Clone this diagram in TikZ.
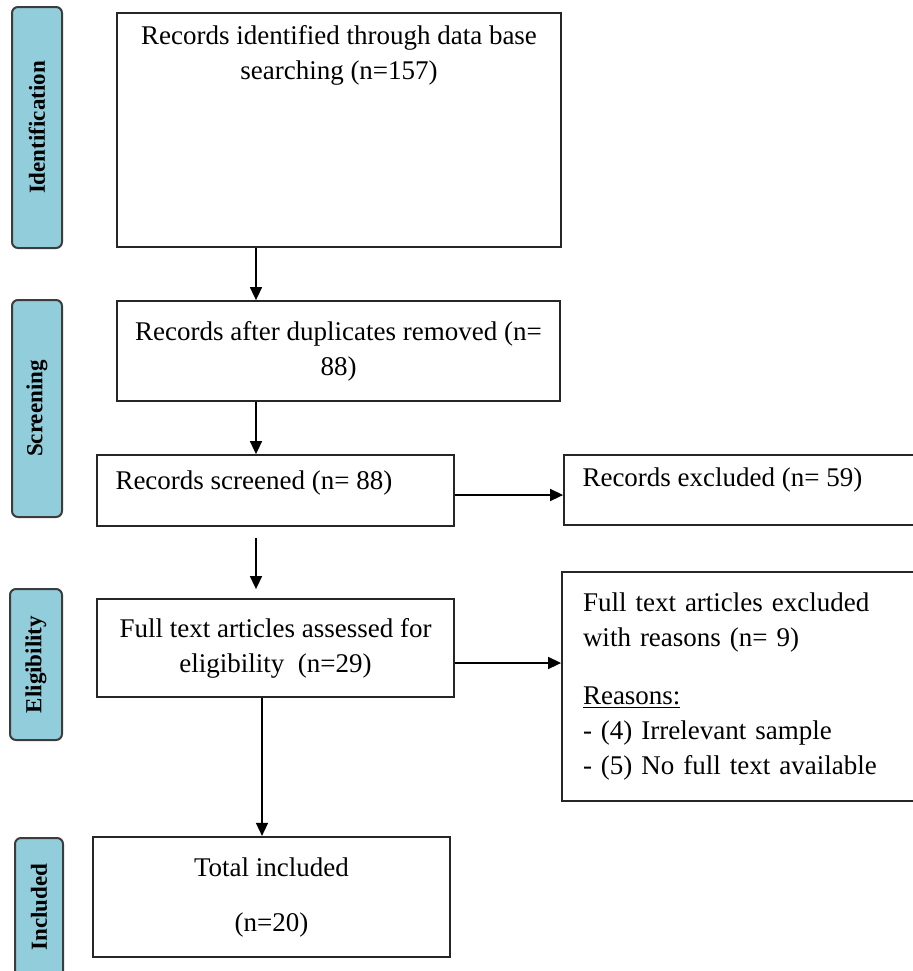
\documentclass[tikz,border=0pt]{standalone}
\usepackage{fontspec}
\setmainfont{Liberation Serif}
\usepackage{xcolor}
\usepackage{tikz}
\usetikzlibrary{arrows.meta,positioning,calc}

\definecolor{tabblue}{RGB}{146,205,220}
\definecolor{tabline}{RGB}{60,60,60}

\begin{document}
\begin{tikzpicture}[
  x=1pt, y=-1pt,
  font=\fontsize{13.5}{17.5}\selectfont, >={Triangle[width=6pt,length=6.5pt]},
  stage/.style={draw=tabline, line width=1pt, fill=tabblue, rounded corners=3pt,
    inner sep=0pt, font=\fontsize{11.5}{13}\selectfont\bfseries},
  box/.style={draw=black!85, line width=0.9pt, inner sep=0pt, align=center},
  txt/.style={inner sep=0pt, align=left},
  link/.style={->, line width=0.8pt},
]
\useasboundingbox (0,0) rectangle (456.5,485.5);
% ---- stage tabs on the left
\node[stage, minimum width=25pt, minimum height=120.5pt] (tid) at (18.5,63.75)
  {\rotatebox{90}{Identification}};
\node[stage, minimum width=25pt, minimum height=108.5pt] (tscr) at (18.5,204.25)
  {\rotatebox{90}{Screening}};
\node[stage, minimum width=26pt, minimum height=75.5pt] (telig) at (18,332.25)
  {\rotatebox{90}{Eligibility}};
\node[stage, minimum width=24pt, minimum height=71pt] (tinc) at (19.5,454.5) {};
\node[inner sep=0pt, font=\fontsize{11.5}{13}\selectfont\bfseries] (tinctxt) at (19.5,453.5)
  {\rotatebox{90}{Included}};
% ---- flow boxes
\node[box, minimum width=222pt, minimum height=117pt] (ident) at (169.5,65) {};
\node[txt, align=center, anchor=north] (identtxt) at ([yshift=-6.6pt]ident.north)
  {Records identified through data base\\ searching (n=157)};
\node[box, minimum width=221.5pt, minimum height=50pt] (dupl) at (169.25,175.5)
  {Records after duplicates removed (n=\\ 88)};
\node[box, minimum width=178.5pt, minimum height=35.5pt] (scr) at (137.75,245.25) {};
\node[txt, anchor=north west] (scrtxt) at ([xshift=9.5pt,yshift=-8pt]scr.north west)
  {Records screened (n= 88)};
\node[box, minimum width=176pt, minimum height=35pt] (excl) at (370,245) {};
\node[txt, anchor=north west] (excltxt) at ([xshift=9.5pt,yshift=-6.5pt]excl.north west)
  {Records excluded (n= 59)};
\node[box, minimum width=178.5pt, minimum height=49pt] (full) at (137.75,324)
  {Full text articles assessed for\\ eligibility\ \ (n=29)};
\node[box, align=left, text width=156pt, inner xsep=10.5pt, minimum width=177pt,
  minimum height=114.5pt] (fexcl) at (369.5,343.25)
  {Full text articles excluded\\ with reasons (n= 9)\\[11.5pt]
   \underline{Reasons:}\\ - (4) Irrelevant sample\\ - (5) No\ full text available};
\node[box, line width=1.1pt, minimum width=178.5pt, minimum height=60pt] (incl) at (135.75,448.5)
  {Total included\\[10pt] (n=20)};
% ---- arrows
\coordinate (c1) at (128,0);
\coordinate (c3) at (131,0);
\coordinate (c4) at (0,331.5);
\draw[link] (ident.south -| c1) -- (dupl.north -| c1);
\draw[link] (dupl.south -| c1) -- (scr.north -| c1);
\draw[link] ([yshift=-2.25pt]scr.east) -- ([yshift=-2.5pt]excl.west);
\draw[link, shorten <=5.5pt, shorten >=4.5pt] (scr.south -| c1) -- (full.north -| c1);
\draw[link] (full.east |- c4) -- (fexcl.west |- c4);
\draw[link] (full.south -| c3) -- (incl.north -| c3);
\end{tikzpicture}
\end{document}
